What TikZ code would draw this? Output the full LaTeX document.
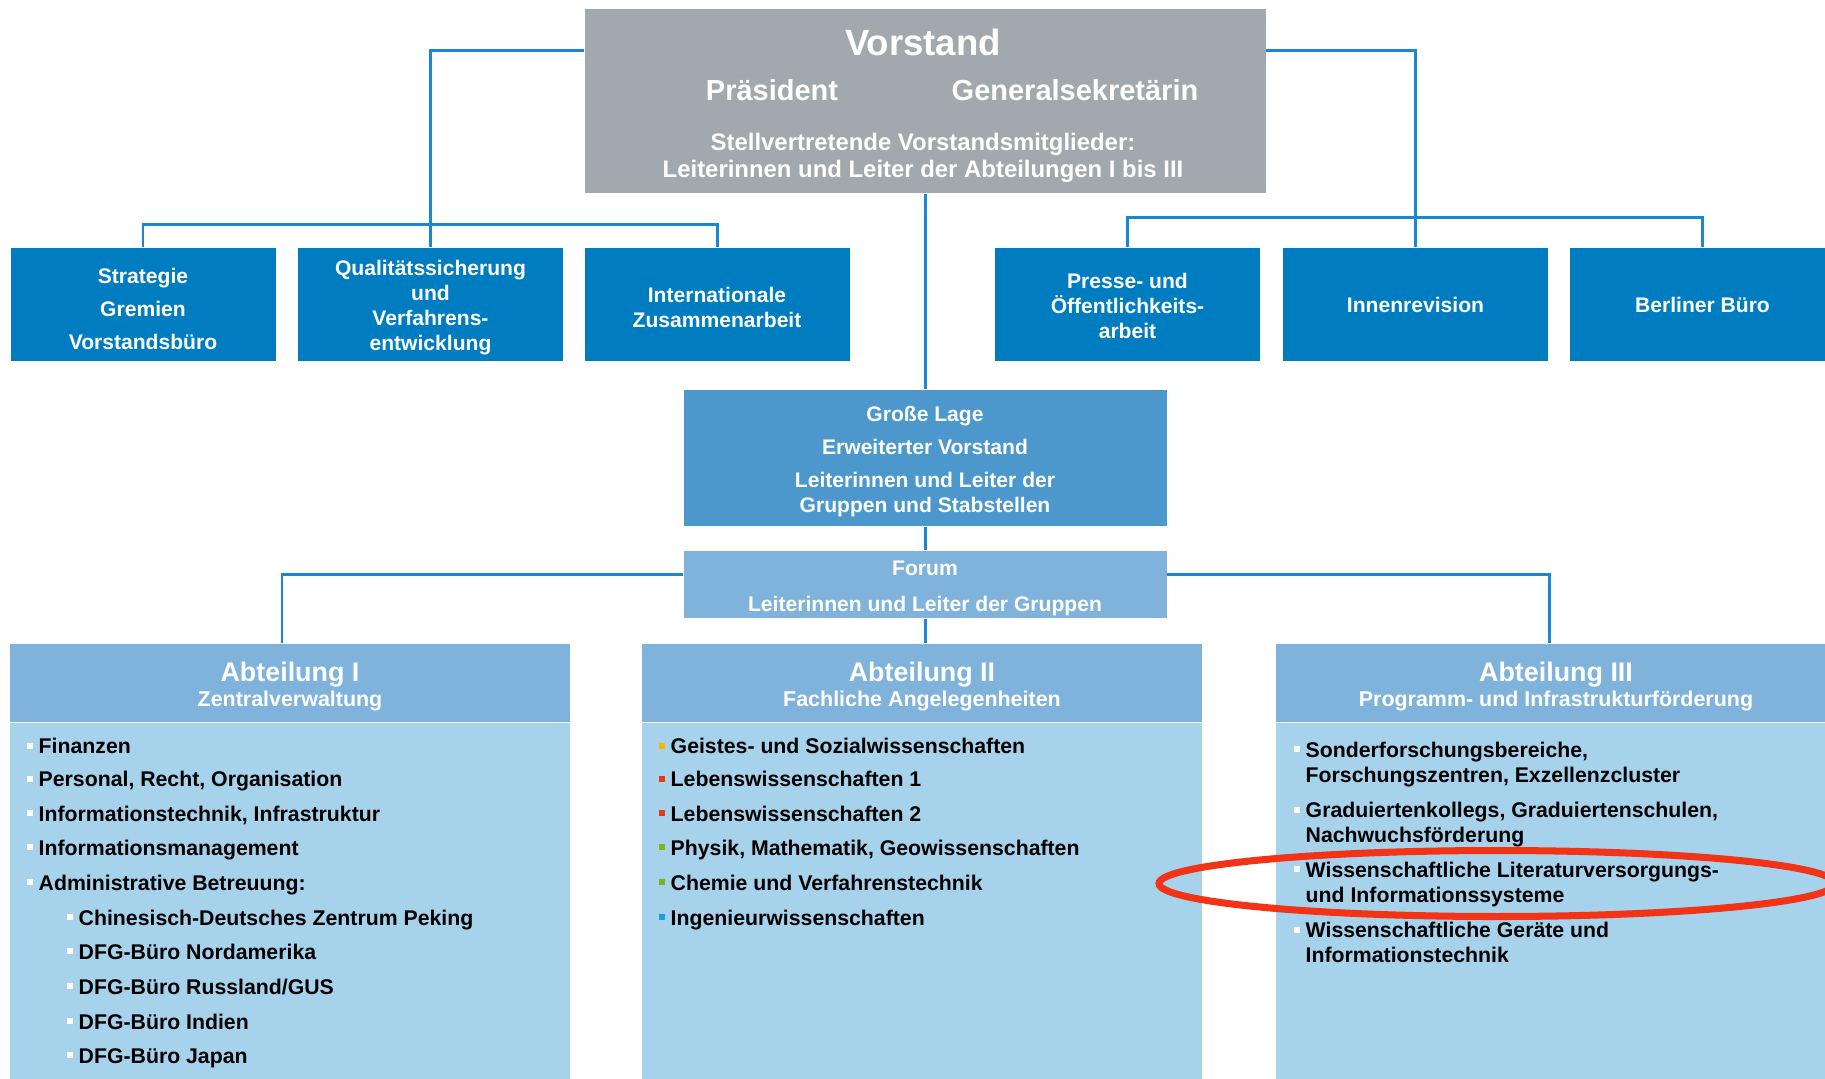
\documentclass[tikz,border=0pt]{standalone}
\usepackage{fontspec}
\setmainfont{Liberation Sans}
\usepackage{tikz}
\usetikzlibrary{positioning, shapes.geometric}
\definecolor{boardgray}{HTML}{A1A9AE}
\definecolor{staffblue}{HTML}{007DC0}
\definecolor{lageblue}{HTML}{4C98CD}
\definecolor{headblue}{HTML}{80B3DC}
\definecolor{paneblue}{HTML}{A6D2EC}
\definecolor{lineblue}{HTML}{1A88CF}
\definecolor{markred}{HTML}{F33316}
\definecolor{bulyellow}{HTML}{F5B800}
\definecolor{bulred}{HTML}{E4381C}
\definecolor{bulgreen}{HTML}{7AB51D}
\definecolor{bulblue}{HTML}{1AA0DE}
\newcommand{\sqbul}[1]{\llap{\textcolor{#1}{\rule[1.35pt]{1.7pt}{1.7pt}}\hspace{1.5pt}}}
\newcommand{\padtop}[1][6.2pt]{\rule{0pt}{#1}}
\tikzset{
	boardnode/.style={
			fill=boardgray,
			minimum width=68.1mm,
			minimum height=18.4mm,
			inner sep=0pt
		},
	boardtext/.style={
			text=white,
			align=center,
			inner sep=0pt
		},
	staffnode/.style={
			fill=staffblue,
			text=white,
			align=center,
			minimum width=26.5mm,
			minimum height=11.3mm,
			inner sep=0pt,
			font=\fontsize{6}{7.1}\selectfont\bfseries
		},
	lagenode/.style={
			staffnode,
			fill=lageblue,
			minimum width=48.3mm,
			minimum height=13.6mm
		},
	forumnode/.style={
			staffnode,
			fill=headblue,
			minimum width=48.3mm,
			minimum height=6.7mm
		},
	headnode/.style={
			fill=headblue,
			minimum width=56mm,
			minimum height=7.8mm,
			inner sep=0pt
		},
	panenode/.style={
			fill=paneblue,
			minimum width=56mm,
			minimum height=36mm,
			inner sep=0pt
		},
	headtitle/.style={
			anchor=base,
			text=white,
			inner sep=0pt,
			font=\fontsize{7.65}{9}\selectfont\bfseries
		},
	headsub/.style={
			headtitle,
			font=\fontsize{6.1}{7.1}\selectfont\bfseries
		},
	itemnode/.style={
			anchor=base west,
			inner sep=0pt,
			text=black,
			align=left,
			font=\fontsize{6.05}{7.1}\selectfont\bfseries
		},
	orgline/.style={
			draw=lineblue,
			line width=0.85pt
		},
	ringnode/.style={
			ellipse,
			draw=markred,
			line width=2pt,
			minimum width=67.6mm,
			minimum height=6.6mm,
			inner sep=0pt
		}
}

\begin{document}
\begin{tikzpicture}[x=0.1mm, y=-0.1mm]
\useasboundingbox (0,0) rectangle (1825,1078);

\node[boardnode] (vorstand) at (925,101) {};
\node[boardtext, anchor=base, font=\fontsize{10.4}{12}\selectfont\bfseries] (vtitle) at (923,55) {Vorstand};
\node[boardtext, anchor=base, font=\fontsize{8.25}{10}\selectfont\bfseries] (praes) at (772,100) {Präsident};
\node[boardtext, anchor=base, font=\fontsize{8.25}{10}\selectfont\bfseries] (gensek) at (1075,100) {Generalsekretärin};
\node[boardtext, font=\fontsize{6.8}{7.7}\selectfont\bfseries] (stellv) at (923,158) {Stellvertretende Vorstandsmitglieder:\\Leiterinnen und Leiter der Abteilungen I bis III};

\node[staffnode] (strat) at (143,304.5) {\padtop[7pt]Strategie\\[2.3pt]Gremien\\[2.3pt]Vorstandsbüro};
\node[staffnode] (quali) at (430.5,304.5) {\padtop Qualitätssicherung\\und\\Verfahrens-\\entwicklung};
\node[staffnode] (intl) at (717,304.5) {\padtop Internationale\\Zusammenarbeit};
\node[staffnode] (presse) at (1127.5,304.5) {\padtop[5.4pt]Presse- und\\Öffentlichkeits-\\arbeit};
\node[staffnode] (innen) at (1415.5,304.5) {Innenrevision};
\node[staffnode] (berlin) at (1702.5,304.5) {Berliner Büro};

\node[lagenode] (lage) at (925,458) {\padtop[6.4pt]Große Lage\\[2.4pt]Erweiterter Vorstand\\[2.4pt]Leiterinnen und Leiter der\\Gruppen und Stabstellen};
\node[forumnode] (forum) at (925,584.5) {\padtop[6.4pt]Forum\\[3.1pt]Leiterinnen und Leiter der Gruppen};

\node[headnode] (head1) at (290,683) {};
\node[headnode] (head2) at (922,683) {};
\node[headnode] (head3) at (1556,683) {};
\node[panenode, below=0pt of head1] (pane1) {};
\node[panenode, below=0pt of head2] (pane2) {};
\node[panenode, below=0pt of head3] (pane3) {};

\node[headtitle] (t1) at (290,681) {Abteilung I};
\node[headsub] (s1) at (290,706) {Zentralverwaltung};
\node[headtitle] (t2) at (922,681) {Abteilung II};
\node[headsub] (s2) at (922,706) {Fachliche Angelegenheiten};
\node[headtitle] (t3) at (1556,681) {Abteilung III};
\node[headsub] (s3) at (1556,706) {Programm- und Infrastrukturförderung};

\node[itemnode] (i1a) at (38,753.5) {\sqbul{white}Finanzen};
\node[itemnode] (i1b) at (38,786.5) {\sqbul{white}Personal, Recht, Organisation};
\node[itemnode] (i1c) at (38,821) {\sqbul{white}Informationstechnik, Infrastruktur};
\node[itemnode] (i1d) at (38,855) {\sqbul{white}Informationsmanagement};
\node[itemnode] (i1e) at (38,890) {\sqbul{white}Administrative Betreuung:};
\node[itemnode] (i1f) at (78,925) {\sqbul{white}Chinesisch-Deutsches Zentrum Peking};
\node[itemnode] (i1g) at (78,959) {\sqbul{white}DFG-Büro Nordamerika};
\node[itemnode] (i1h) at (78,994) {\sqbul{white}DFG-Büro Russland/GUS};
\node[itemnode] (i1i) at (78,1029) {\sqbul{white}DFG-Büro Indien};
\node[itemnode] (i1j) at (78,1063) {\sqbul{white}DFG-Büro Japan};

\node[itemnode] (i2a) at (670,753.5) {\sqbul{bulyellow}Geistes- und Sozialwissenschaften};
\node[itemnode] (i2b) at (670,786.5) {\sqbul{bulred}Lebenswissenschaften 1};
\node[itemnode] (i2c) at (670,821) {\sqbul{bulred}Lebenswissenschaften 2};
\node[itemnode] (i2d) at (670,855) {\sqbul{bulgreen}Physik, Mathematik, Geowissenschaften};
\node[itemnode] (i2e) at (670,890) {\sqbul{bulgreen}Chemie und Verfahrenstechnik};
\node[itemnode] (i2f) at (670,925) {\sqbul{bulblue}Ingenieurwissenschaften};

\node[itemnode] (i3a) at (1305,782) {\sqbul{white}Sonderforschungsbereiche,\\Forschungszentren, Exzellenzcluster};
\node[itemnode] (i3b) at (1305,842.5) {\sqbul{white}Graduiertenkollegs, Graduiertenschulen,\\Nachwuchsförderung};
\node[itemnode] (i3c) at (1305,902) {\sqbul{white}Wissenschaftliche Literaturversorgungs-\\und Informationssysteme};
\node[itemnode] (i3d) at (1305,962.5) {\sqbul{white}Wissenschaftliche Geräte und\\Informationstechnik};

\draw[orgline] ([yshift=5.1mm]vorstand.west) -| (quali.north);
\draw[orgline] (strat.north) -- ++(0,-23) -| (intl.north);
\draw[orgline] ([yshift=5.1mm]vorstand.east) -| (innen.north);
\draw[orgline] (presse.north) -- ++(0,-30) -| (berlin.north);
\draw[orgline] (vorstand.south) -- (lage.north);
\draw[orgline] (lage.south) -- (forum.north);
\draw[orgline] ([yshift=1.05mm]forum.west) -| ([xshift=-0.8mm]head1.north);
\draw[orgline] ([yshift=1.05mm]forum.east) -| ([xshift=-0.7mm]head3.north);
\draw[orgline] (forum.south) -- (forum.south |- head2.north);

\node[ringnode] (hilite) at (1497,883.5) {};

\end{tikzpicture}
\end{document}
